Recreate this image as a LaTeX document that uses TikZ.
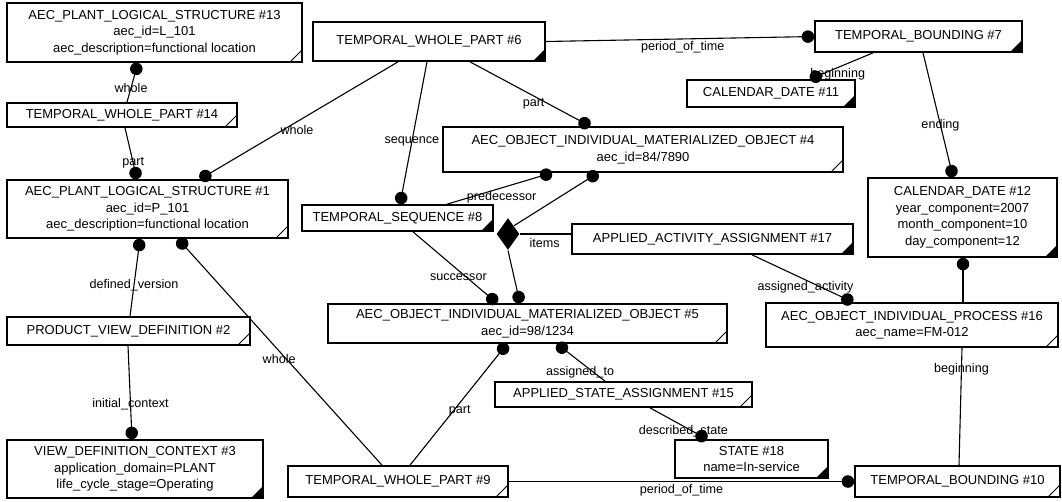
\documentclass[tikz,border=0pt]{standalone}
\usepackage{fontspec}
\setmainfont{Liberation Sans}
\usetikzlibrary{arrows.meta,shapes.geometric}

\begin{document}
\begin{tikzpicture}[x=1pt,y=-1pt,>={Circle[length=12.5pt]},line width=1.1pt,
  entity/.style={draw,rectangle,line width=1.7pt,align=center,inner sep=0pt,font=\fontsize{13}{16.5}\selectfont},
  open corner/.style={path picture={\draw[line width=0.9pt] ([xshift=-12pt]path picture bounding box.south east) -- ([yshift=12pt]path picture bounding box.south east);}},
  dark corner/.style={path picture={\fill ([xshift=-12pt]path picture bounding box.south east) -- (path picture bounding box.south east) -- ([yshift=12pt]path picture bounding box.south east) -- cycle;}},
  lbl/.style={font=\fontsize{12.6}{14}\selectfont,inner sep=1pt}]
  \useasboundingbox (0,0) rectangle (1062,501);

  \node[entity,open corner,minimum width=295pt,minimum height=59pt] (n13) at (154.5,32.5) {AEC\_PLANT\_LOGICAL\_STRUCTURE \#13\\aec\_id=L\_101\\aec\_description=functional location};
  \node[entity,open corner,minimum width=230pt,minimum height=24pt] (n14) at (122,115) {TEMPORAL\_WHOLE\_PART \#14};
  \node[entity,open corner,minimum width=281pt,minimum height=58pt] (n1) at (147.5,209) {AEC\_PLANT\_LOGICAL\_STRUCTURE \#1\\aec\_id=P\_101\\aec\_description=functional location};
  \node[entity,open corner,minimum width=243pt,minimum height=28pt] (n2) at (128.5,331) {PRODUCT\_VIEW\_DEFINITION \#2};
  \node[entity,dark corner,minimum width=256pt,minimum height=58pt] (n3) at (135,469) {VIEW\_DEFINITION\_CONTEXT \#3\\application\_domain=PLANT\\life\_cycle\_stage=Operating};
  \node[entity,dark corner,minimum width=232pt,minimum height=39pt] (n6) at (429,41.5) {TEMPORAL\_WHOLE\_PART \#6};
  \node[entity,dark corner,minimum width=207pt,minimum height=31pt] (n7) at (918.5,36.5) {TEMPORAL\_BOUNDING \#7};
  \node[entity,dark corner,minimum width=168pt,minimum height=27pt] (n11) at (771,93.5) {CALENDAR\_DATE \#11};
  \node[entity,open corner,minimum width=400pt,minimum height=45pt] (n4) at (643,149.5) {AEC\_OBJECT\_INDIVIDUAL\_MATERIALIZED\_OBJECT \#4\\aec\_id=84/7890};
  \node[entity,dark corner,minimum width=191pt,minimum height=26pt] (n8) at (397.5,218) {TEMPORAL\_SEQUENCE \#8};
  \node[diamond,fill,minimum width=23pt,minimum height=32pt,inner sep=0pt] (dia) at (508,234) {};
  \node[entity,dark corner,minimum width=281pt,minimum height=30pt] (n17) at (712.5,239) {APPLIED\_ACTIVITY\_ASSIGNMENT \#17};
  \node[entity,dark corner,minimum width=189pt,minimum height=79pt] (n12) at (962.5,217.5) {CALENDAR\_DATE \#12\\year\_component=2007\\month\_component=10\\day\_component=12};
  \node[entity,open corner,minimum width=399pt,minimum height=39pt] (n5) at (527.5,323.5) {AEC\_OBJECT\_INDIVIDUAL\_MATERIALIZED\_OBJECT \#5\\aec\_id=98/1234};
  \node[entity,open corner,minimum width=292pt,minimum height=44pt] (n16) at (912,325) {AEC\_OBJECT\_INDIVIDUAL\_PROCESS \#16\\aec\_name=FM-012};
  \node[entity,open corner,minimum width=257pt,minimum height=25pt] (n15) at (623.5,394.5) {APPLIED\_STATE\_ASSIGNMENT \#15};
  \node[entity,dark corner,minimum width=153pt,minimum height=38pt] (n18) at (751.5,459) {STATE \#18\\name=In-service};
  \node[entity,open corner,minimum width=205pt,minimum height=31pt] (n10) at (957.5,481.5) {TEMPORAL\_BOUNDING \#10};
  \node[entity,open corner,minimum width=220pt,minimum height=31pt] (n9) at (398,481.5) {TEMPORAL\_WHOLE\_PART \#9};

  \draw[->] (127,0 |- n14.north) -- node[lbl,pos=0.37] {whole} (138,0 |- n13.south);
  \draw[->] (125,0 |- n14.south) -- node[lbl,pos=0.68] {part} (137,0 |- n1.north);
  \draw[->] (398,0 |- n6.south) -- node[lbl,pos=0.51,yshift=-8pt] {whole} (200,0 |- n1.north);
  \draw[->] (427,0 |- n6.south) -- node[lbl,pos=0.56] {sequence} (400,0 |- n8.north);
  \draw[->] (470,0 |- n6.south) -- node[lbl,pos=0.53,yshift=-8pt] {part} (590,0 |- n4.north);
  \draw[->] (n6.east) -- node[lbl,pos=0.51,yshift=-8pt] {period\_of\_time} (n7.west);
  \draw[->] (873,0 |- n7.south) -- node[lbl,pos=0.56,yshift=-7pt] {beginning} (810,0 |- n11.north);
  \draw[->] (923,0 |- n7.south) -- node[lbl,pos=0.58] {ending} (953,0 |- n12.north);
  \draw[->] (447,0 |- n8.north) -- node[lbl,pos=0.52,yshift=-9pt] {predecessor} (552,0 |- n4.south);
  \draw[->] (dia.north east) -- (598,0 |- n4.south);
  \draw (dia.east) -- node[lbl,pos=0.48,yshift=-9pt] {items} (dia.east -| n17.west);
  \draw[->] (dia.south) -- (520,0 |- n5.north);
  \draw[->] (413,0 |- n8.south) -- node[lbl,pos=0.54,yshift=-7pt] {successor} (497,0 |- n5.north);
  \draw[->] (752,0 |- n17.south) -- node[lbl,pos=0.53,yshift=-7pt] {assigned\_activity} (853,0 |- n16.north);
  \draw[->] (963,0 |- n16.north) -- (963,0 |- n12.south);
  \draw (962,0 |- n16.south) -- node[lbl,pos=0.18] {beginning} (959,0 |- n10.north);
  \draw[->] (130,0 |- n2.north) -- node[lbl,pos=0.4] {defined\_version} (140,0 |- n1.south);
  \draw[->] (382,0 |- n9.north) -- node[lbl,pos=0.47,xshift=-7pt] {whole} (178,0 |- n1.south);
  \draw[->] (128,0 |- n2.south) -- node[lbl,pos=0.62] {initial\_context} (132,0 |- n3.north);
  \draw[->] (410,0 |- n9.north) -- node[lbl,pos=0.45,xshift=6pt] {part} (507,0 |- n5.south);
  \draw[->] (605,0 |- n15.north) -- node[lbl,pos=0.52,yshift=-10pt] {assigned\_to} (557,0 |- n5.south);
  \draw[->] (650,0 |- n15.south) -- node[lbl,pos=0.76,xshift=-10pt] {described\_state} (707,0 |- n18.north);
  \draw[->] (n9.east) -- node[lbl,pos=0.5,yshift=-9pt] {period\_of\_time} (n10.west);
\end{tikzpicture}
\end{document}
